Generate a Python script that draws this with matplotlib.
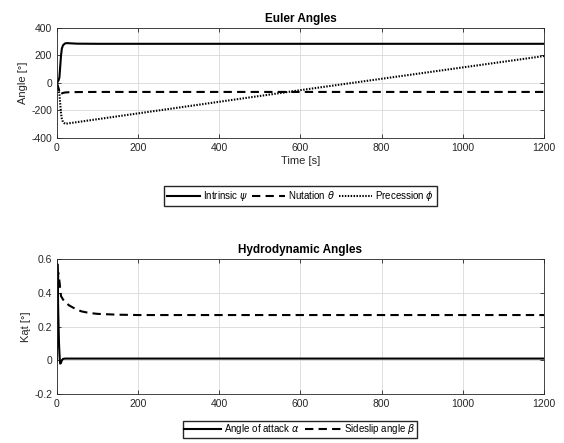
import matplotlib
matplotlib.use("Agg")
import matplotlib.pyplot as plt

plt.rcParams['font.family'] = ['Liberation Sans', 'DejaVu Sans']
plt.rcParams['axes.unicode_minus'] = False

# Euler angles
t_psi = [0, 2, 4, 6, 8, 10, 12, 15, 20, 25, 30, 50, 100, 600, 1200]
psi = [0, 10, 20, 40, 120, 200, 250, 275, 288, 290, 289, 286, 285, 285, 285]

t_theta = [0, 2, 4, 6, 8, 10, 12, 15, 20, 30, 50, 100, 600, 1200]
theta = [0, -20, -40, -60, -85, -80, -76, -72, -69, -67, -66, -65, -65, -65]

t_phi = [0, 2, 4, 6, 8, 10, 12, 15, 20, 600, 1200]
phi = [0, -20, -50, -80, -150, -220, -260, -285, -297, -52, 196]

# Hydrodynamic angles
t_alpha = [0, 1, 2, 3, 5, 7, 8, 10, 12, 15, 20, 50, 100, 600, 1200]
alpha = [0.0, 0.57, 0.45, 0.3, 0.1, 0.0, -0.02, -0.015, 0.0, 0.008, 0.01, 0.01, 0.01, 0.01, 0.01]

t_beta = [0, 3, 5, 7, 8, 10, 15, 20, 30, 45, 60, 80, 100, 150, 200, 600, 1200]
beta = [0.0, 0.52, 0.49, 0.45, 0.42, 0.38, 0.36, 0.345, 0.325, 0.305, 0.29, 0.28, 0.275, 0.27, 0.268, 0.268, 0.268]

gray = '#262626'

fig = plt.figure(figsize=(5.64, 4.43), dpi=100)
ax1 = fig.add_axes([0.101, 0.6885, 0.8635, 0.2483])
ax2 = fig.add_axes([0.101, 0.1106, 0.8635, 0.3047])


def style(ax):
    ax.grid(True, color='#d9d9d9', linewidth=0.6)
    ax.set_axisbelow(True)
    ax.tick_params(direction='in', top=True, right=True, length=3,
                   width=0.6, colors=gray, labelsize=7.5, labelcolor=gray)
    for s in ax.spines.values():
        s.set_color(gray)
        s.set_linewidth(0.6)
    ax.set_xlim(0, 1200)
    ax.set_xticks(range(0, 1201, 200))


ax1.plot(t_psi, psi, color='black', lw=1.5, label=r'Intrinsic $\psi$')
ax1.plot(t_theta, theta, color='black', lw=1.5, linestyle=(0, (4, 2.5)),
         label=r'Nutation $\theta$')
ax1.plot(t_phi, phi, color='black', lw=1.5, linestyle=(0, (0.7, 0.7)),
         label=r'Precession $\phi$')
style(ax1)
ax1.set_ylim(-400, 400)
ax1.set_yticks([-400, -200, 0, 200, 400])
ax1.set_title('Euler Angles', fontsize=8.5, fontweight='bold', pad=4)
ax1.set_xlabel('Time [s]', fontsize=8, color=gray, labelpad=2)
ax1.set_ylabel('Angle [°]', fontsize=8, color=gray, labelpad=2)
ax1.legend(loc='center', bbox_to_anchor=(0.533, 0.5576),
           bbox_transform=fig.transFigure, ncol=3, fontsize=7,
           handlelength=3.4, handletextpad=0.3, columnspacing=0.45,
           fancybox=False, edgecolor=gray, framealpha=1,
           borderpad=0.3, borderaxespad=0)

ax2.plot(t_alpha, alpha, color='black', lw=1.5, label=r'Angle of attack $\alpha$')
ax2.plot(t_beta, beta, color='black', lw=1.5, linestyle=(0, (4, 2.5)),
         label=r'Sideslip angle $\beta$')
style(ax2)
ax2.set_ylim(-0.2, 0.6)
ax2.set_yticks([-0.2, 0, 0.2, 0.4, 0.6])
ax2.set_yticklabels(['-0.2', '0', '0.2', '0.4', '0.6'])
ax2.set_title('Hydrodynamic Angles', fontsize=8.5, fontweight='bold', pad=4)
ax2.set_ylabel('Kąt [°]', fontsize=8, color=gray, labelpad=2)
ax2.legend(loc='center', bbox_to_anchor=(0.532, 0.0305),
           bbox_transform=fig.transFigure, ncol=2, fontsize=7,
           handlelength=3.8, handletextpad=0.3, columnspacing=0.5,
           fancybox=False, edgecolor=gray, framealpha=1,
           borderpad=0.15, borderaxespad=0)

fig.savefig('out.png', dpi=100, facecolor='white')
